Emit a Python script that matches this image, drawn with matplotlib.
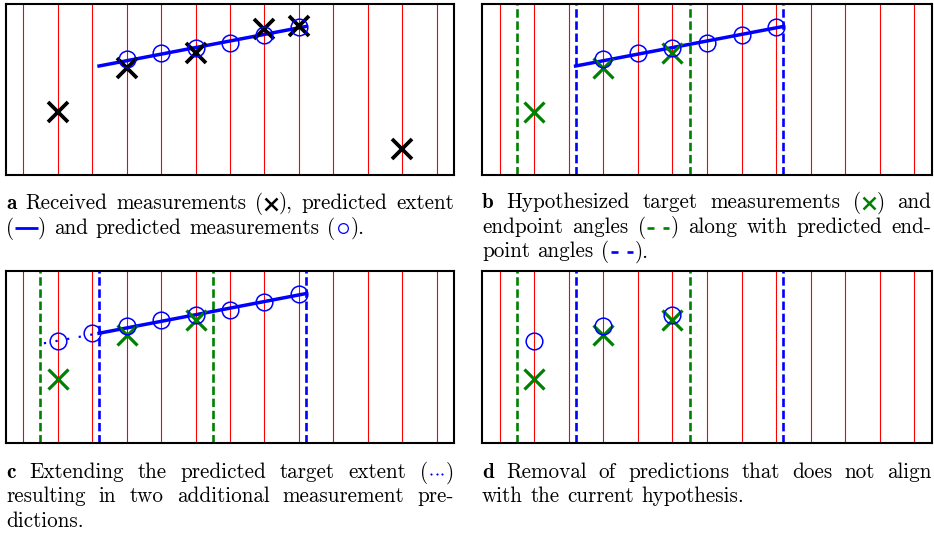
import re
import matplotlib
matplotlib.use("Agg")
import matplotlib.pyplot as plt
from matplotlib.lines import Line2D
from matplotlib.transforms import IdentityTransform
import numpy as np

# beam angles (red lines), in beam-index units
beam_angles = list(range(13))

# received measurements: beam index and height (px above the bottom of a panel)
meas_beams = [1, 3, 5, 7, 8, 11]
meas_y = [63, 107, 122, 146, 149, 26]

# predicted measurements along the extended extent
pred_beams = [1, 2, 3, 4, 5, 6, 7, 8]
pred_y = [101, 109, 116, 122, 127, 132, 140, 148]

# predicted extent (solid) and its extension (dotted)
extent_x = [2.2, 8.2]
extent_y = [109, 148.5]
ext_x = [0.6, 2.2]
ext_y = [99, 109]

# hypothesis
hyp_beams = [1, 3, 5]
hyp_angles = [0.5, 5.5]
pred_angles = [2.2, 8.2]

captions = {
    "a": ["**a** Received measurements ({x:black}), predicted extent",
          "({line:blue}) and predicted measurements ({o:blue})."],
    "b": ["**b** Hypothesized target measurements ({x:green}) and",
          "endpoint angles ({dash:green}) along with predicted end-",
          "point angles ({dash:blue})."],
    "c": ["**c** Extending the predicted target extent ({dots:blue})",
          "resulting in two additional measurement pre-",
          "dictions."],
    "d": ["**d** Removal of predictions that does not align",
          "with the current hypothesis."],
}

W, H = 934, 534
fig = plt.figure(figsize=(W / 100, H / 100), dpi=100)
fig.patch.set_facecolor("white")

RED, BLUE, GREEN = "#ff0000", "#0000ff", "#008000"


def add_panel(left, top, right, bottom):
    ax = fig.add_axes([left / W, 1 - bottom / H, (right - left) / W, (bottom - top) / H])
    ax.set_xlim(-0.5, 12.5)
    ax.set_ylim(0, 171)
    ax.set_xticks([])
    ax.set_yticks([])
    for s in ax.spines.values():
        s.set_linewidth(1.5)
        s.set_color("black")
    for b in beam_angles:
        ax.axvline(b, color=RED, lw=0.8, zorder=1)
    return ax


def angle_lines(ax):
    for a in hyp_angles:
        ax.axvline(a, color=GREEN, lw=1.9, dashes=(3.2, 1.4), zorder=2)
    for a in pred_angles:
        ax.axvline(a, color=BLUE, lw=1.9, dashes=(3.2, 1.4), zorder=2)


def pick(beams, ys, keep):
    pts = [(b, y) for b, y in zip(beams, ys) if b in keep]
    return [p[0] for p in pts], [p[1] for p in pts]


xkw = dict(ls="none", marker="x", ms=14, zorder=4)
okw = dict(ls="none", marker="o", ms=12, mfc="none", mec=BLUE, mew=1.1, zorder=5)

# a
ax = add_panel(6, 4, 454, 175)
ax.plot(extent_x, extent_y, color=BLUE, lw=2.5, zorder=3)
ax.plot(meas_beams, meas_y, color="black", mew=2.7, **xkw)
ax.plot(*pick(pred_beams, pred_y, range(3, 9)), **okw)

# b
ax = add_panel(482.3, 4, 931.7, 175)
angle_lines(ax)
ax.plot(extent_x, extent_y, color=BLUE, lw=2.5, zorder=3)
ax.plot(*pick(meas_beams, meas_y, hyp_beams), color=GREEN, mew=2.3, **xkw)
ax.plot(*pick(pred_beams, pred_y, range(3, 9)), **okw)

# c
ax = add_panel(6, 271, 454, 442.7)
angle_lines(ax)
ax.plot(extent_x, extent_y, color=BLUE, lw=2.5, zorder=3)
ax.plot(ext_x, ext_y, color=BLUE, lw=1.6, dashes=(1, 4.3), zorder=3)
ax.plot(*pick(meas_beams, meas_y, hyp_beams), color=GREEN, mew=2.3, **xkw)
ax.plot(pred_beams, pred_y, **okw)

# d
ax = add_panel(482.3, 271, 931.7, 442.7)
angle_lines(ax)
ax.plot(*pick(meas_beams, meas_y, hyp_beams), color=GREEN, mew=2.3, **xkw)
ax.plot(*pick(pred_beams, pred_y, hyp_beams), **okw)

# ---- captions (justified, laid out word by word in pixel coords) ----
FS = 15.2
ID = IdentityTransform()
renderer = fig.canvas.get_renderer()
TOKEN = re.compile(r"(\{\w+:\w+\}|\*\*\w+\*\*)")
SYM_W = dict(x=15, line=24, o=16, dash=25, dots=18)


def symbol(kind, color, y):
    yc = y + 5.5
    kw = dict(color=color, transform=ID)
    if kind == "x":
        ln = [Line2D([7.5], [yc], ls="none", marker="x", ms=8.6, mew=1.8, **kw)]
    elif kind == "line":
        ln = [Line2D([0.5, 23.5], [yc, yc], lw=2.0, solid_capstyle="butt", **kw)]
    elif kind == "o":
        ln = [Line2D([8], [yc], ls="none", marker="o", ms=7, mfc="none", mew=0.9, **kw)]
    elif kind == "dash":
        ln = [Line2D([1.5, 8, np.nan, 17, 23.5], [yc] * 5, lw=1.9, solid_capstyle="butt", **kw)]
    else:
        ln = [Line2D([3.5, 9, 14.5], [yc - 1] * 3, ls="none", marker="o", ms=1.0, mew=0.5, **kw)]
    for l in ln:
        fig.add_artist(l)
    return ln


def build_word(word, y):
    items, x = [], 0.0
    for part in TOKEN.split(word):
        if not part:
            continue
        if part.startswith("{"):
            kind, color = part[1:-1].split(":")
            for l in symbol(kind, color, y):
                items.append((l, x, np.asarray(l.get_xdata(), float)))
            x += SYM_W[kind]
        else:
            bold = part.startswith("**")
            t = fig.text(0, y, part.strip("*") if bold else part, transform=ID,
                         fontsize=FS, family="cmb10" if bold else "cmr10",
                         ha="left", va="baseline")
            items.append((t, x, None))
            x += t.get_window_extent(renderer).width
    return items, x


def caption(lines, x0, x1, baselines):
    for i, (line, yb) in enumerate(zip(lines, baselines)):
        words = [build_word(w, H - yb) for w in line.split(" ")]
        total = sum(w for _, w in words)
        last = i == len(lines) - 1
        gap = 7.6 if last else (x1 - x0 - total) / (len(words) - 1)
        x = x0
        for items, w in words:
            for a, rel, xd in items:
                if xd is None:
                    a.set_x(x + rel)
                else:
                    a.set_xdata(xd + x + rel)
            x += w + gap


caption(captions["a"], 6, 454, [209, 233.5])
caption(captions["b"], 482, 931.5, [208.5, 233, 257.3])
caption(captions["c"], 6, 454, [478.5, 502.5, 526.7])
caption(captions["d"], 482, 931.5, [478.5, 502.5])

fig.savefig("out.png", dpi=100)
